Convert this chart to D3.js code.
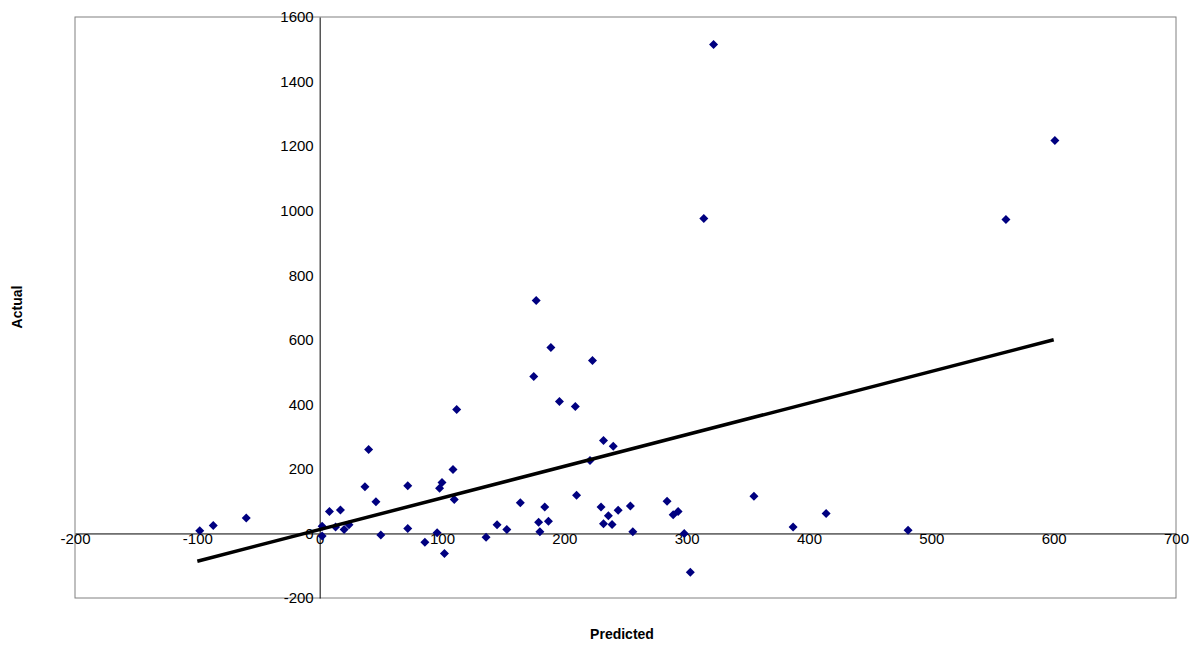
<!DOCTYPE html>
<html><head><meta charset="utf-8">
<script src="https://cdn.jsdelivr.net/npm/d3@7"></script>
<style>body{margin:0;background:#fff;font-family:"Liberation Sans",Arial,sans-serif}</style>
</head><body>
<svg id="chart" width="1203" height="645"></svg>
<script>
// predicted vs actual
var predicted = [322,601,561,314,177,189,175,223,196,209,112,40,232,240,221,109,100,98,110,37,72,46,8,17,20,24,13,2,2,-98,-87,-60,50,72,86,96,102,136,145,153,164,179,180,184,187,210,230,232,236,239,244,254,256,284,289,293,298,303,355,387,414,481];
var actual    = [1515,1217,973,976,722,576,486,536,409,393,384,260,288,270,226,198,158,140,105,145,148,98,68,73,12,27,20,22,-8,8,25,48,-5,15,-27,2,-62,-12,27,12,95,35,5,82,38,118,82,30,55,28,72,85,5,100,58,68,0,-120,115,20,62,10];
var trendX = [-100, 600];
var trendY = [-86, 600];
var xTicks = d3.range(-200, 701, 100);
var yTicks = d3.range(-200, 1601, 200);

var svg = d3.select("#chart");
var x = d3.scaleLinear().domain([-200, 700]).range([75, 1176]);
var y = d3.scaleLinear().domain([-200, 1600]).range([598, 17]);
var fmt = function(d) { return String(d); };

svg.append("rect").attr("x", 75).attr("y", 17).attr("width", 1101).attr("height", 581)
  .attr("fill", "none").attr("stroke", "#808080");

// axes crossing at zero
svg.append("g").attr("transform", "translate(0," + y(0) + ")")
  .call(d3.axisBottom(x).tickValues(xTicks).tickFormat(fmt).tickSize(0).tickPadding(0))
  .call(function(g) {
    g.select(".domain").attr("stroke", "#000");
    g.selectAll("text").attr("dy", "0.35em").attr("y", 5).attr("font-size", 15).attr("font-family", "Liberation Sans, Arial");
  });
svg.append("g").attr("transform", "translate(" + x(0) + ",0)")
  .call(d3.axisLeft(y).tickValues(yTicks).tickFormat(fmt).tickSize(0).tickPadding(6))
  .call(function(g) {
    g.select(".domain").attr("stroke", "#000");
    g.selectAll("text").attr("font-size", 15).attr("font-family", "Liberation Sans, Arial");
  });

svg.selectAll(".pt").data(predicted).enter().append("path")
  .attr("class", "pt")
  .attr("transform", function(d, i) { return "translate(" + x(d) + "," + y(actual[i]) + ")"; })
  .attr("d", "M0,-4.5L4.5,0L0,4.5L-4.5,0Z")
  .attr("fill", "#000080");

svg.append("path")
  .datum(trendX.map(function(d, i) { return [d, trendY[i]]; }))
  .attr("d", d3.line().x(function(d) { return x(d[0]); }).y(function(d) { return y(d[1]); }))
  .attr("stroke", "#000").attr("stroke-width", 3.5).attr("fill", "none");

svg.append("text").attr("x", 622).attr("y", 639).attr("text-anchor", "middle")
  .attr("font-size", 14).attr("font-weight", "bold").text("Predicted");
svg.append("text").attr("transform", "translate(22,307) rotate(-90)").attr("text-anchor", "middle")
  .attr("font-size", 14).attr("font-weight", "bold").text("Actual");
</script>
</body></html>
